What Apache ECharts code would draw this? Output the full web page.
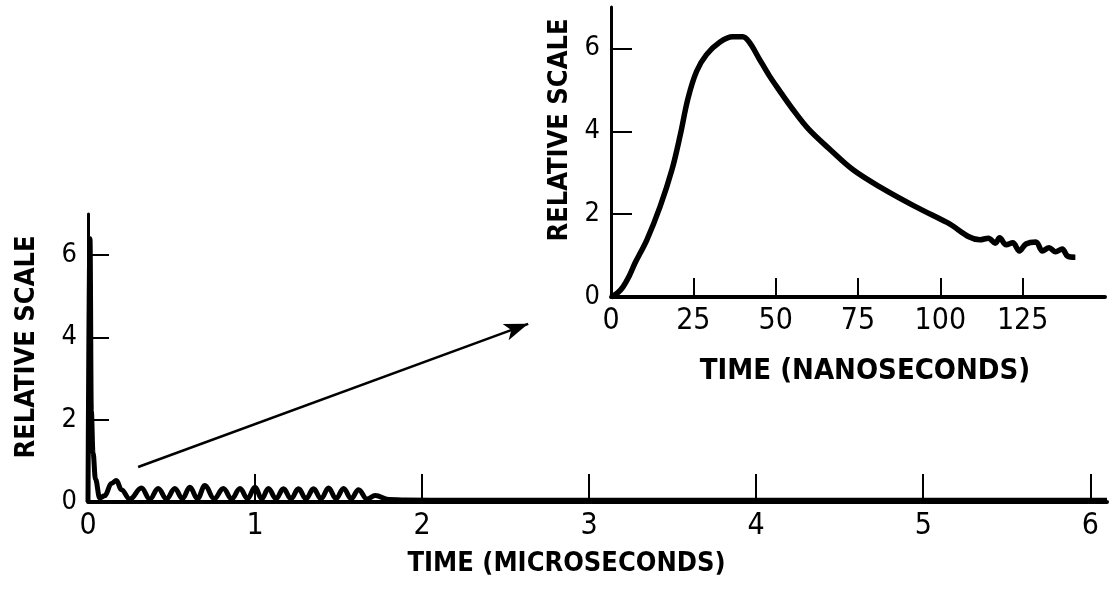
<!DOCTYPE html>
<html>
<head>
<meta charset="utf-8">
<script src="https://cdn.jsdelivr.net/npm/echarts@6/dist/echarts.min.js"></script>
<style>
  html, body { margin: 0; padding: 0; background: #fff; }
  #main { width: 1112px; height: 590px; }
</style>
</head>
<body>
<div id="main"></div>
<script>
// main trace, time in microseconds
var usTime = [0, 0.012, 0.02, 0.03, 0.045, 0.07, 0.1, 0.14, 0.17, 0.2, 0.25,
  0.32, 0.37, 0.42, 0.47, 0.52, 0.565, 0.61, 0.655, 0.70, 0.755, 0.81, 0.86,
  0.91, 0.955, 1.0, 1.04, 1.08, 1.125, 1.17, 1.215, 1.26, 1.305, 1.35, 1.395,
  1.44, 1.485, 1.53, 1.575, 1.62, 1.67, 1.72, 1.8, 1.9, 2.2, 3, 4, 5, 6.1];
var usValue = [0, 6.4, 2.2, 1.2, 0.55, 0.1, 0.15, 0.45, 0.52, 0.3, 0.07,
  0.34, 0.07, 0.33, 0.08, 0.33, 0.08, 0.36, 0.08, 0.4, 0.08, 0.33, 0.08,
  0.33, 0.08, 0.36, 0.08, 0.33, 0.08, 0.32, 0.08, 0.32, 0.08, 0.32, 0.08,
  0.34, 0.08, 0.33, 0.08, 0.3, 0.07, 0.16, 0.06, 0.05, 0.04, 0.04, 0.04, 0.04, 0.04];

// inset trace, time in nanoseconds
var nsTime = [0, 2, 3.6, 5.5, 7.3, 10.9, 14.9, 18.5, 21, 23.4, 26, 29, 33, 37, 40, 42,
  45, 48, 51, 55, 60, 66.5, 73.5, 82, 92, 102, 112, 114.6, 116.7, 118, 120, 122,
  124, 126, 129, 131, 133, 135, 137, 138.6, 141];
var nsValue = [0, 0.1, 0.24, 0.5, 0.82, 1.38, 2.18, 3.07, 3.9, 4.8, 5.45, 5.85, 6.15, 6.28, 6.28, 6.15,
  5.75, 5.35, 5.0, 4.55, 4.05, 3.56, 3.07, 2.64, 2.2, 1.8, 1.38, 1.42, 1.3, 1.43, 1.26, 1.31,
  1.11, 1.28, 1.33, 1.11, 1.19, 1.09, 1.16, 0.99, 0.96];

var usTicks = [0, 1, 2, 3, 4, 5, 6];
var nsTicks = [0, 25, 50, 75, 100, 125];
var yTicks = [0, 2, 4, 6];

// arrow from main trace to inset, in main-axis units
var arrowFrom = [0.3, 0.85];
var arrowTo = [2.635, 4.33];

function pairs(xs, ys) {
  var out = [];
  for (var i = 0; i < xs.length; i++) out.push([xs[i], ys[i]]);
  return out;
}

var font = "'DejaVu Sans Condensed', sans-serif";
var black = "#000";

function xAxisCfg(grid, max, ticks, name, tickLen, nameGap, namePad, nameSize) {
  return {
    type: "value", gridIndex: grid, min: 0, max: max,
    name: name, nameLocation: "middle", nameGap: nameGap,
    nameTextStyle: { fontFamily: font, fontSize: nameSize, fontWeight: "bold", color: black, padding: namePad },
    axisLine: { show: true, lineStyle: { color: black, width: 4 } },
    axisTick: { show: true, inside: true, length: tickLen, customValues: ticks.slice(1),
      lineStyle: { color: black, width: 2 } },
    axisLabel: { customValues: ticks, fontFamily: font, fontSize: 30, color: black, margin: 9 },
    splitLine: { show: false }
  };
}

function yAxisCfg(grid, name, nameGap, namePad) {
  return {
    type: "value", gridIndex: grid, min: 0, max: 7,
    name: name, nameLocation: "middle", nameGap: nameGap,
    nameTextStyle: { fontFamily: font, fontSize: 27, fontWeight: "bold", color: black, padding: namePad },
    axisLine: { show: true, lineStyle: { color: black, width: 3 } },
    axisTick: { show: true, inside: true, length: 21, customValues: yTicks.slice(1),
      lineStyle: { color: black, width: 2 } },
    axisLabel: { customValues: yTicks, fontFamily: font, fontSize: 27, color: black, margin: 11 },
    splitLine: { show: false }
  };
}

var option = {
  animation: false,
  backgroundColor: "#fff",
  grid: [
    { left: 88, top: 214, width: 1019, height: 288 },
    { left: 611, top: 7, width: 494, height: 290 }
  ],
  xAxis: [
    xAxisCfg(0, 6.1, usTicks, "TIME (MICROSECONDS)", 28, 48, [0, 62, 0, 0], 27),
    xAxisCfg(1, 150, nsTicks, "TIME (NANOSECONDS)", 19, 60, [0, 0, 0, 14], 29)
  ],
  yAxis: [
    yAxisCfg(0, "RELATIVE SCALE", 48, [0, 0, 0, 22]),
    yAxisCfg(1, "RELATIVE SCALE", 38, [0, 0, 0, 44])
  ],
  series: [
    {
      type: "line", xAxisIndex: 0, yAxisIndex: 0,
      data: pairs(usTime, usValue),
      smooth: 0.4, smoothMonotone: "x",
      showSymbol: false,
      lineStyle: { color: black, width: 5 },
      markLine: {
        silent: true, symbol: ["none", "arrow"], symbolSize: [13, 24],
        label: { show: false },
        lineStyle: { color: black, width: 2.5, type: "solid" },
        data: [[{ coord: arrowFrom }, { coord: arrowTo }]]
      }
    },
    {
      type: "line", xAxisIndex: 1, yAxisIndex: 1,
      data: pairs(nsTime, nsValue),
      smooth: 0.35,
      showSymbol: false,
      lineStyle: { color: black, width: 5.5 }
    }
  ]
};

var chart = echarts.init(document.getElementById("main"));
chart.setOption(option);
</script>
</body>
</html>
